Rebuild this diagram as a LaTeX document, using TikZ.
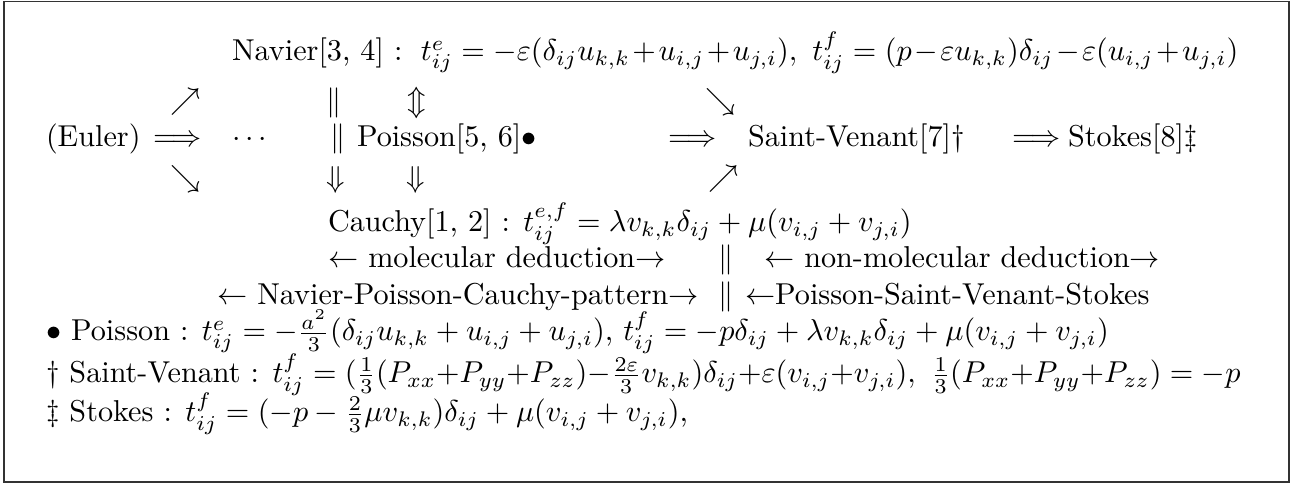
\documentclass[tikz,border=0pt]{standalone}
\usepackage{amsmath}
\begin{document}
\begin{tikzpicture}[x=0.3311pt,y=-0.3311pt,
  txt/.style={anchor=base west,inner sep=0pt,outer sep=0pt},
  glyph/.style={anchor=center,inner sep=0pt,outer sep=0pt},
  frame/.style={draw=black!80,line width=0.45pt}]
\useasboundingbox (0,0) rectangle (1296,484);
\draw[frame] (4,1.5) rectangle (1289,482);
% row 1
\node[txt] (navier) at (232,61) {Navier[3, 4] {\medmuskip=1.5mu $:\ t^e_{ij}=-\varepsilon(\delta_{ij}u_{k,k}+u_{i,j}+u_{j,i}),\ t^f_{ij}=(p-\varepsilon u_{k,k})\delta_{ij}-\varepsilon(u_{i,j}+u_{j,i})$}};
% row 2
\node[glyph] (ne1) at (185.5,102) {$\nearrow$};
\node[glyph] (par1) at (334,103) {$\|$};
\node[glyph] (ud) at (417,103) {$\Updownarrow$};
\node[glyph] (se2) at (721,102) {$\searrow$};
% row 3
\node[txt] (euler) at (46,147) {(Euler)};
\node[txt] (imp1) at (153,147) {$\Longrightarrow$};
\node[txt] (dots) at (232,147) {$\cdots$};
\node[txt] (par2) at (330,147) {$\|$};
\node[txt] (poisson) at (357,147) {Poisson[5, 6]$\bullet$};
\node[txt] (imp2) at (668,147) {$\Longrightarrow$};
\node[txt] (sv) at (748,147) {Saint-Venant[7]\dag};
\node[txt] (imp3) at (1012,147) {$\Longrightarrow$};
\node[txt] (stokes) at (1068,147) {Stokes[8]\ddag};
% row 4
\node[glyph] (se1) at (186,179) {$\searrow$};
\node[glyph] (dn1) at (335.5,179.5) {$\Downarrow$};
\node[glyph] (dn2) at (415.5,179.5) {$\Downarrow$};
\node[glyph] (ne2) at (724,179) {$\nearrow$};
% row 5
\node[txt] (cauchy) at (328,232) {Cauchy[1, 2] : $t^{e,f}_{ij}=\lambda v_{k,k}\delta_{ij}+\mu(v_{i,j}+v_{j,i})$};
% row 6
\node[txt] (mol) at (328,268) {$\leftarrow$ molecular deduction$\rightarrow$};
\node[txt] (par3) at (718,268) {$\|$};
\node[txt] (nonmol) at (764,268) {$\leftarrow$ non-molecular deduction$\rightarrow$};
% row 7
\node[txt] (pattern) at (217,305) {$\leftarrow$ Navier-Poisson-Cauchy-pattern$\rightarrow$};
\node[txt] (par4) at (718,305) {$\|$};
\node[txt] (pss) at (745,305) {$\leftarrow$Poisson-Saint-Venant-Stokes};
% footnotes
\node[txt] (fnP) at (46,341) {$\bullet$ Poisson : $t^e_{ij}=-\frac{a^2}{3}(\delta_{ij}u_{k,k}+u_{i,j}+u_{j,i})$, $t^f_{ij}=-p\delta_{ij}+\lambda v_{k,k}\delta_{ij}+\mu(v_{i,j}+v_{j,i})$};
\node[txt] (fnSV) at (46,383) {\dag\ Saint-Venant : {\medmuskip=0mu $t^f_{ij}=(\frac{1}{3}(P_{xx}+P_{yy}+P_{zz})-\frac{2\varepsilon}{3}v_{k,k})\delta_{ij}+\varepsilon(v_{i,j}+v_{j,i}),\ \frac{1}{3}(P_{xx}+P_{yy}+P_{zz})=-p$}};
\node[txt] (fnS) at (46,422) {\ddag\ Stokes : $t^f_{ij}=(-p-\frac{2}{3}\mu v_{k,k})\delta_{ij}+\mu(v_{i,j}+v_{j,i})$,};
\end{tikzpicture}
\end{document}
